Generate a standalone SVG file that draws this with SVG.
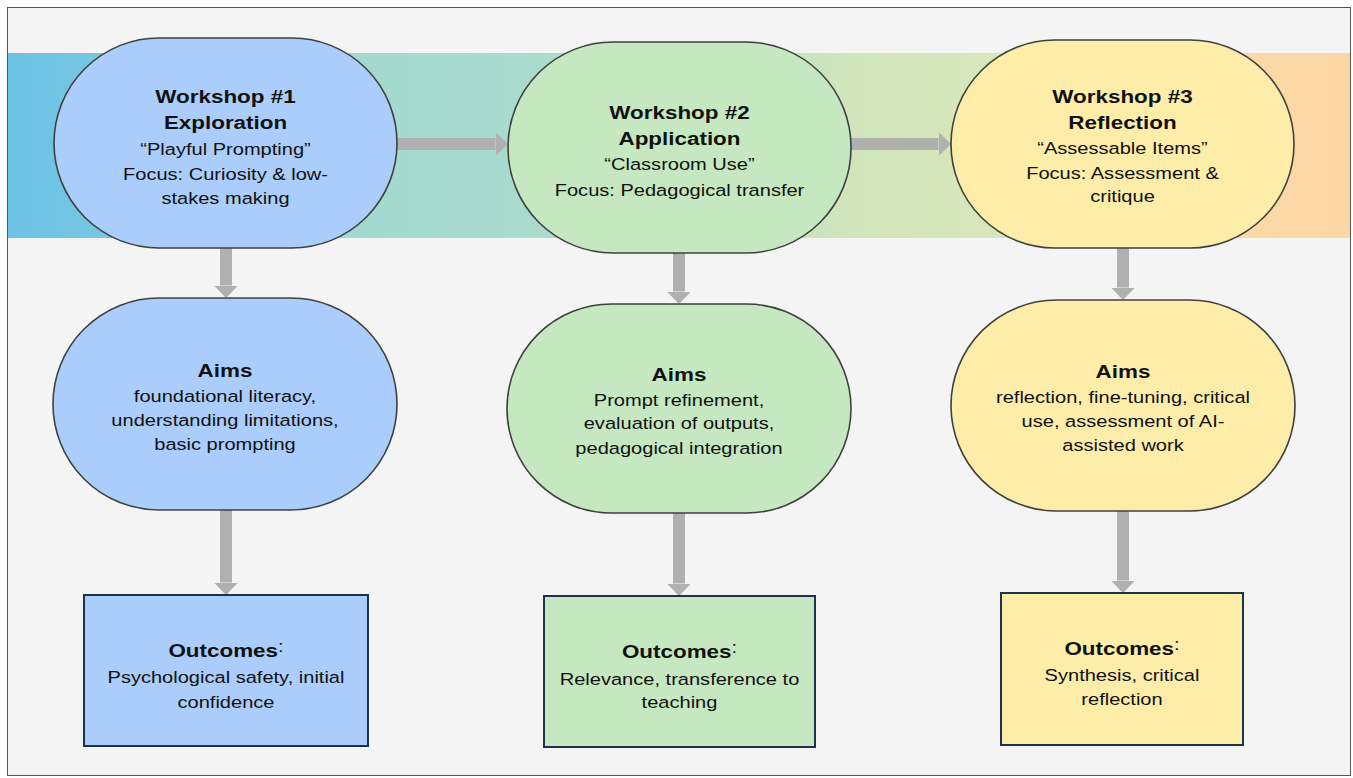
<svg xmlns="http://www.w3.org/2000/svg" width="1353" height="778" viewBox="0 0 1353 778">
<defs>
<linearGradient id="band" x1="0" y1="0" x2="1" y2="0">
<stop offset="0" stop-color="#6cc2e5"/>
<stop offset="0.08" stop-color="#77c7e1"/>
<stop offset="0.25" stop-color="#a2d9d0"/>
<stop offset="0.42" stop-color="#abdccd"/>
<stop offset="0.64" stop-color="#d2e6bb"/>
<stop offset="0.78" stop-color="#dbe6bb"/>
<stop offset="0.9" stop-color="#fad9a8"/>
<stop offset="1" stop-color="#fbd7a4"/>
</linearGradient>
<marker id="ah" viewBox="0 0 10 10" refX="0" refY="5" markerWidth="1.05" markerHeight="2.0" preserveAspectRatio="none" markerUnits="strokeWidth" orient="auto">
<path d="M0,0 L10,5 L0,10 Z" fill="#b0b0b0"/>
</marker>
</defs>
<style>
.frame{fill:#f4f4f4;stroke:#555;stroke-width:1}
.s{stroke:#404040;stroke-width:1.6}
.o{stroke:#1b3448;stroke-width:2}
.blue{fill:#abcdfb}
.green{fill:#c6e8c0}
.yellow{fill:#fdeda9}
text{font-family:"Liberation Sans",Arial,sans-serif;fill:#111;text-anchor:middle}
.b{font-weight:bold;font-size:19px}
.r{font-size:17px}
.c{font-weight:normal;font-size:17px}
.con{stroke:#b0b0b0;stroke-width:12;fill:none}
</style>
<rect x="0" y="0" width="1353" height="778" fill="#ffffff"/>
<rect class="frame" x="7.5" y="7.5" width="1343" height="768"/>
<rect x="8" y="53" width="1342" height="185" fill="url(#band)"/>

<g id="connectors">
<line class="con" x1="397" y1="144" x2="495.5" y2="144" marker-end="url(#ah)"/>
<line class="con" x1="851" y1="144" x2="938.5" y2="144" marker-end="url(#ah)"/>
<line class="con" x1="226" y1="248" x2="226" y2="285.5" marker-end="url(#ah)"/>
<line class="con" x1="679" y1="253" x2="679" y2="291.5" marker-end="url(#ah)"/>
<line class="con" x1="1123" y1="248" x2="1123" y2="287.5" marker-end="url(#ah)"/>
<line class="con" x1="226" y1="510" x2="226" y2="582.5" marker-end="url(#ah)"/>
<line class="con" x1="679" y1="513" x2="679" y2="583.5" marker-end="url(#ah)"/>
<line class="con" x1="1123" y1="511" x2="1123" y2="580.5" marker-end="url(#ah)"/>
</g>

<g id="workshop1">
<rect class="s blue" x="54" y="38" width="343" height="210" rx="105" ry="105"/>
<g transform="translate(225.5,0) scale(1.18,1)">
<text class="b" x="0" y="103">Workshop #1</text>
<text class="b" x="0" y="129">Exploration</text>
<text class="r" x="0" y="155">“Playful Prompting”</text>
<text class="r" x="0" y="180">Focus: Curiosity &amp; low-</text>
<text class="r" x="0" y="204">stakes making</text>
</g>
</g>

<g id="workshop2">
<rect class="s green" x="508" y="42" width="343" height="211" rx="105" ry="105"/>
<g transform="translate(679.5,0) scale(1.18,1)">
<text class="b" x="0" y="119">Workshop #2</text>
<text class="b" x="0" y="145">Application</text>
<text class="r" x="0" y="170">“Classroom Use”</text>
<text class="r" x="0" y="196">Focus: Pedagogical transfer</text>
</g>
</g>

<g id="workshop3">
<rect class="s yellow" x="951" y="40" width="343" height="208" rx="104" ry="104"/>
<g transform="translate(1122.5,0) scale(1.18,1)">
<text class="b" x="0" y="103">Workshop #3</text>
<text class="b" x="0" y="129">Reflection</text>
<text class="r" x="0" y="154">“Assessable Items”</text>
<text class="r" x="0" y="179">Focus: Assessment &amp;</text>
<text class="r" x="0" y="202">critique</text>
</g>
</g>

<g id="aims1">
<rect class="s blue" x="53" y="298" width="344" height="212" rx="106" ry="106"/>
<g transform="translate(225,0) scale(1.18,1)">
<text class="b" x="0" y="377">Aims</text>
<text class="r" x="0" y="402">foundational literacy,</text>
<text class="r" x="0" y="426">understanding limitations,</text>
<text class="r" x="0" y="450">basic prompting</text>
</g>
</g>

<g id="aims2">
<rect class="s green" x="507" y="304" width="344" height="209" rx="104.5" ry="104.5"/>
<g transform="translate(679,0) scale(1.18,1)">
<text class="b" x="0" y="381">Aims</text>
<text class="r" x="0" y="406">Prompt refinement,</text>
<text class="r" x="0" y="429">evaluation of outputs,</text>
<text class="r" x="0" y="454">pedagogical integration</text>
</g>
</g>

<g id="aims3">
<rect class="s yellow" x="951" y="300" width="344" height="211" rx="105.5" ry="105.5"/>
<g transform="translate(1123,0) scale(1.18,1)">
<text class="b" x="0" y="378">Aims</text>
<text class="r" x="0" y="403">reflection, fine-tuning, critical</text>
<text class="r" x="0" y="427">use, assessment of AI-</text>
<text class="r" x="0" y="451">assisted work</text>
</g>
</g>

<g id="outcomes1">
<rect class="o blue" x="84" y="595" width="284" height="151"/>
<g transform="translate(226,0) scale(1.18,1)">
<text class="b" x="0" y="657">Outcomes<tspan class="c" dy="-5">:</tspan></text>
<text class="r" x="0" y="683">Psychological safety, initial</text>
<text class="r" x="0" y="708">confidence</text>
</g>
</g>

<g id="outcomes2">
<rect class="o green" x="544" y="596" width="271" height="151"/>
<g transform="translate(679.5,0) scale(1.18,1)">
<text class="b" x="0" y="658">Outcomes<tspan class="c" dy="-5">:</tspan></text>
<text class="r" x="0" y="685">Relevance, transference to</text>
<text class="r" x="0" y="708">teaching</text>
</g>
</g>

<g id="outcomes3">
<rect class="o yellow" x="1001" y="593" width="242" height="152"/>
<g transform="translate(1122,0) scale(1.18,1)">
<text class="b" x="0" y="655">Outcomes<tspan class="c" dy="-5">:</tspan></text>
<text class="r" x="0" y="681">Synthesis, critical</text>
<text class="r" x="0" y="705">reflection</text>
</g>
</g>
</svg>
